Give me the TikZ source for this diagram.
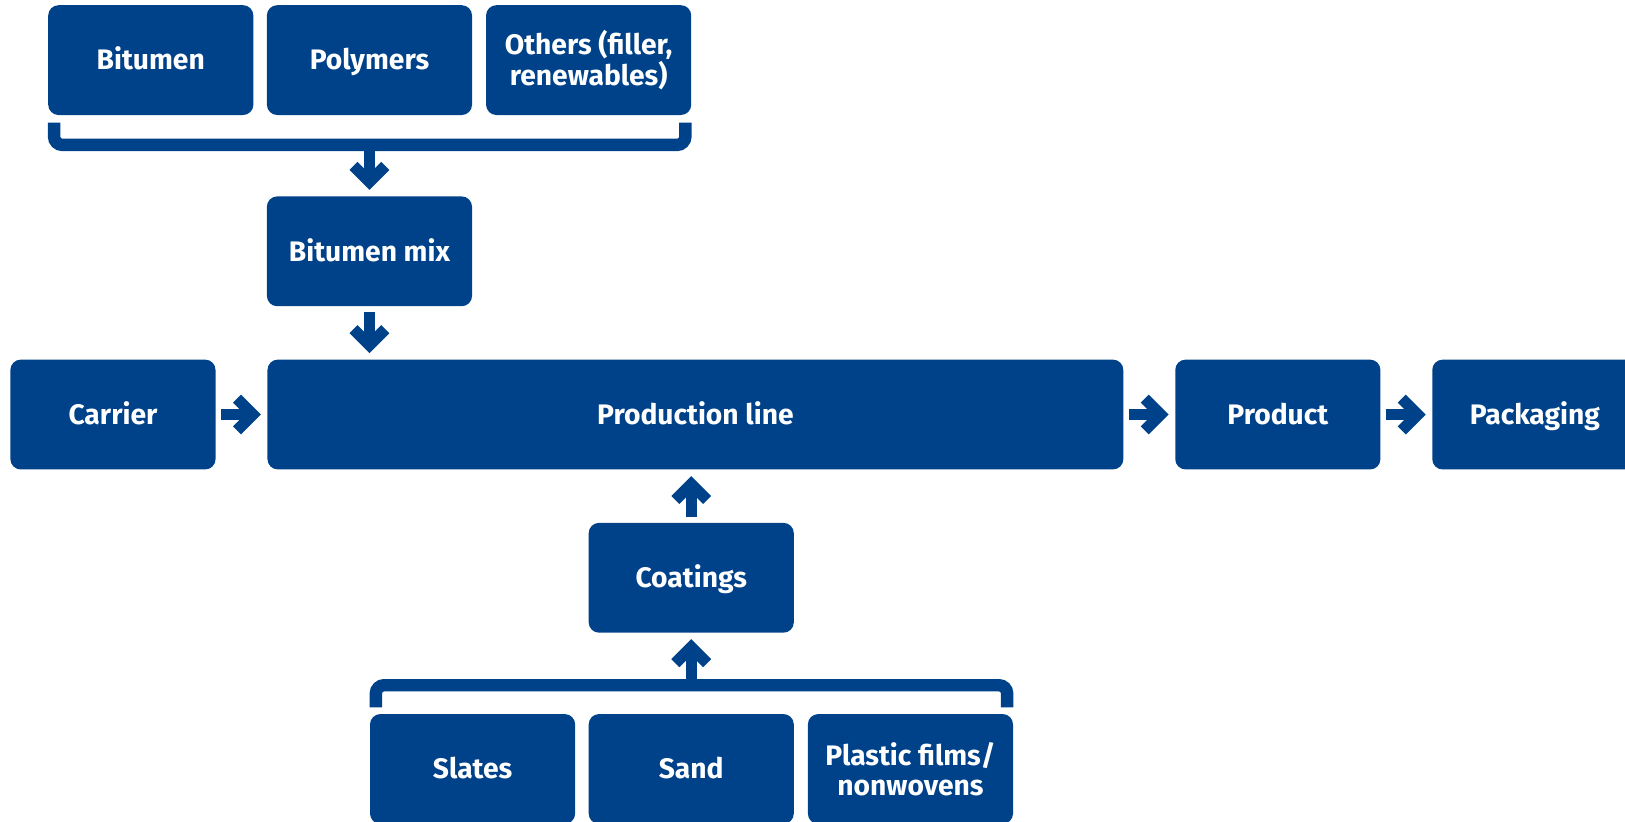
\documentclass[tikz,border=0pt]{standalone}
\usepackage{fontspec}
\setmainfont{Fira Sans}
\usetikzlibrary{calc,arrows.meta}
\definecolor{navy}{RGB}{0,66,138}
\pgfdeclarearrow{
  name=Chev,
  setup code={
    \pgfarrowssettipend{0pt}
    \pgfarrowssetlineend{-7pt}
    \pgfarrowssetbackend{-15.35pt}
    \pgfarrowssetvisualbackend{-7pt}
  },
  drawing code={
    \pgfpathmoveto{\pgfpointorigin}
    \pgfpathlineto{\pgfqpoint{-10.94pt}{10.94pt}}
    \pgfpathlineto{\pgfqpoint{-15.35pt}{6.53pt}}
    \pgfpathlineto{\pgfqpoint{-8.82pt}{0pt}}
    \pgfpathlineto{\pgfqpoint{-15.35pt}{-6.53pt}}
    \pgfpathlineto{\pgfqpoint{-10.94pt}{-10.94pt}}
    \pgfpathclose
    \pgfusepathqfill
  }
}
\tikzset{
  box/.style={fill=navy, rounded corners=0.2cm, minimum width=3.96cm, minimum height=2.12cm,
    text=white, font=\bfseries\fontsize{15.5}{16.5}\selectfont, align=center, inner sep=0pt},
  onebox/.style={box, text height=10.7pt, text depth=0pt},
  flow/.style={draw=navy, fill=navy, line width=6.24pt, -Chev, shorten <=2.83pt, shorten >=3.4pt},
  brace/.style={draw=navy, line width=6.8pt, rounded corners=0.16cm}
}
\begin{document}
\begin{tikzpicture}[x=0.02cm, y=-0.02cm]
\useasboundingbox (0,0) rectangle (1568,793);
\node[onebox] (bit) at (145.5,58) {Bitumen};
\node[onebox] (poly) at (356.5,58) {Polymers};
\node[box] (oth) at (568,58) {Others (filler,\\renewables)};
\node[onebox] (bmix) at (356.5,242.5) {Bitumen mix};
\node[onebox] (carrier) at (109,400) {Carrier};
\node[onebox, minimum width=16.52cm] (prodline) at (671,400) {Production line};
\node[onebox] (product) at (1233,400) {Product};
\node[onebox] (pack) at (1481,400) {Packaging};
\node[onebox] (coat) at (667,557.5) {Coatings};
\node[onebox] (slates) at (456,742) {Slates};
\node[onebox] (sand) at (667,742) {Sand};
\node[box] (plastic) at (878.5,742) {Plastic films/\\nonwovens};
% top bracket
\draw[brace] ($(bit.south west)+(6,7)$) |- ($(oth.south east)+(-6,28.5)$) -- ($(oth.south east)+(-6,7)$);
\coordinate (tb) at ($(poly.south)+(0,28.5)$);
\draw[flow, shorten <=0pt] (tb) -- (bmix.north);
\draw[flow] (bmix.south) -- (bmix.south |- prodline.north);
\draw[flow] (carrier.east) -- (prodline.west);
\draw[flow] (prodline.east) -- (product.west);
\draw[flow] (product.east) -- (pack.west);
\draw[flow] (coat.north) -- (coat.north |- prodline.south);
% bottom bracket
\draw[brace] ($(slates.north west)+(6,-6)$) |- ($(plastic.north east)+(-6,-27.5)$) -- ($(plastic.north east)+(-6,-6)$);
\coordinate (bb) at ($(sand.north)+(0,-27.5)$);
\draw[flow, shorten <=0pt] (bb) -- (coat.south);
\end{tikzpicture}
\end{document}
